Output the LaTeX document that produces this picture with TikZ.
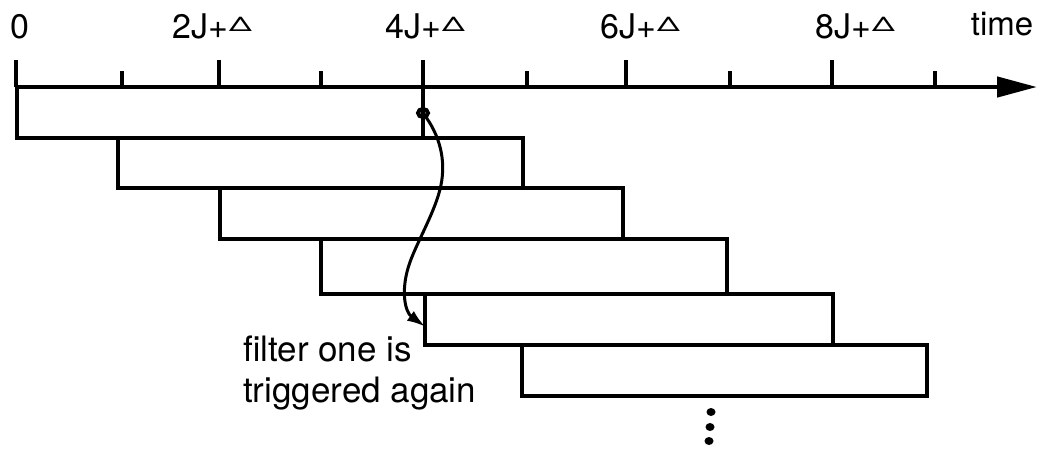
\documentclass[tikz,border=0pt]{standalone}
\usepackage{fontspec}
\setmainfont{TeX Gyre Heros}
\usepackage{graphicx}
\usepackage{tikz}
\usetikzlibrary{arrows.meta}

\newcommand{\jdelta}[1]{#1J+\kern1pt\raisebox{7pt}{\fontsize{20}{20}\selectfont\scalebox{1.6}[1]{Δ}}}

\begin{document}
\begin{tikzpicture}[x=1pt, y=-1pt,
    slot/.style={draw, line width=3.5pt, rectangle, minimum width=405pt, minimum height=51pt, anchor=north west, inner sep=0pt, outer sep=0pt},
    axis/.style={line width=4.5pt, -{Triangle[length=40pt, width=20pt]}},
    tick/.style={line width=3.5pt},
    tlabel/.style={font=\fontsize{34}{36}\selectfont, anchor=base, inner sep=0pt},
    note/.style={font=\fontsize{35}{36}\selectfont, align=left, anchor=base west, inner sep=0pt},
    curvy/.style={line width=3pt, -{Latex[length=18pt, width=12pt]}}]

  \useasboundingbox (0,0) rectangle (1044,448);

  % time axis
  \coordinate (t0) at (16,87);
  \coordinate (tend) at (1037,87);
  \draw[axis] (t0) -- (tend);
  \foreach \x in {16, 219, 423, 626, 832}
    \draw[tick] (\x,60) -- (\x,87);
  \foreach \x in {122, 321, 527, 730, 935}
    \draw[tick] (\x,71) -- (\x,87);

  \node[tlabel] (l0) at (20,38) {0};
  \node[tlabel] (l2) at (212,38) {\jdelta{2}};
  \node[tlabel] (l4) at (425,38) {\jdelta{4}};
  \node[tlabel] (l6) at (640,38) {\jdelta{6}};
  \node[tlabel] (l8) at (855,38) {\jdelta{8}};
  \node[tlabel, font=\fontsize{33}{36}\selectfont] (ltime) at (1002,35) {time};

  % filter windows
  \node[slot, minimum width=406pt] (f1) at (17,87) {};
  \node[slot, minimum height=50pt] (f2) at (118,138) {};
  \node[slot, minimum width=403pt] (f3) at (220,188) {};
  \node[slot, minimum width=406pt, minimum height=55pt] (f4) at (321,239) {};
  \node[slot, minimum width=408pt] (f5) at (425,294) {};
  \node[slot] (f6) at (522,345) {};

  % retrigger
  \coordinate (hit) at (423,113);
  \draw[line width=4pt] (hit) ellipse [x radius=5, y radius=4];
  \draw[curvy] (hit) .. controls (440,135) and (446,160) .. (441,185)
    .. controls (436,210) and (418,240) .. (410,262)
    .. controls (400,290) and (405,312) .. ([yshift=-7pt]f5.west);

  \node[note] (retrig) at (243,402) {filter one is\\[5pt]triggered again};

  \fill (711,412) ellipse [x radius=4.5, y radius=4];
  \fill (710,427) ellipse [x radius=4.5, y radius=4];
  \fill (709,441) ellipse [x radius=4.5, y radius=4];
\end{tikzpicture}
\end{document}
